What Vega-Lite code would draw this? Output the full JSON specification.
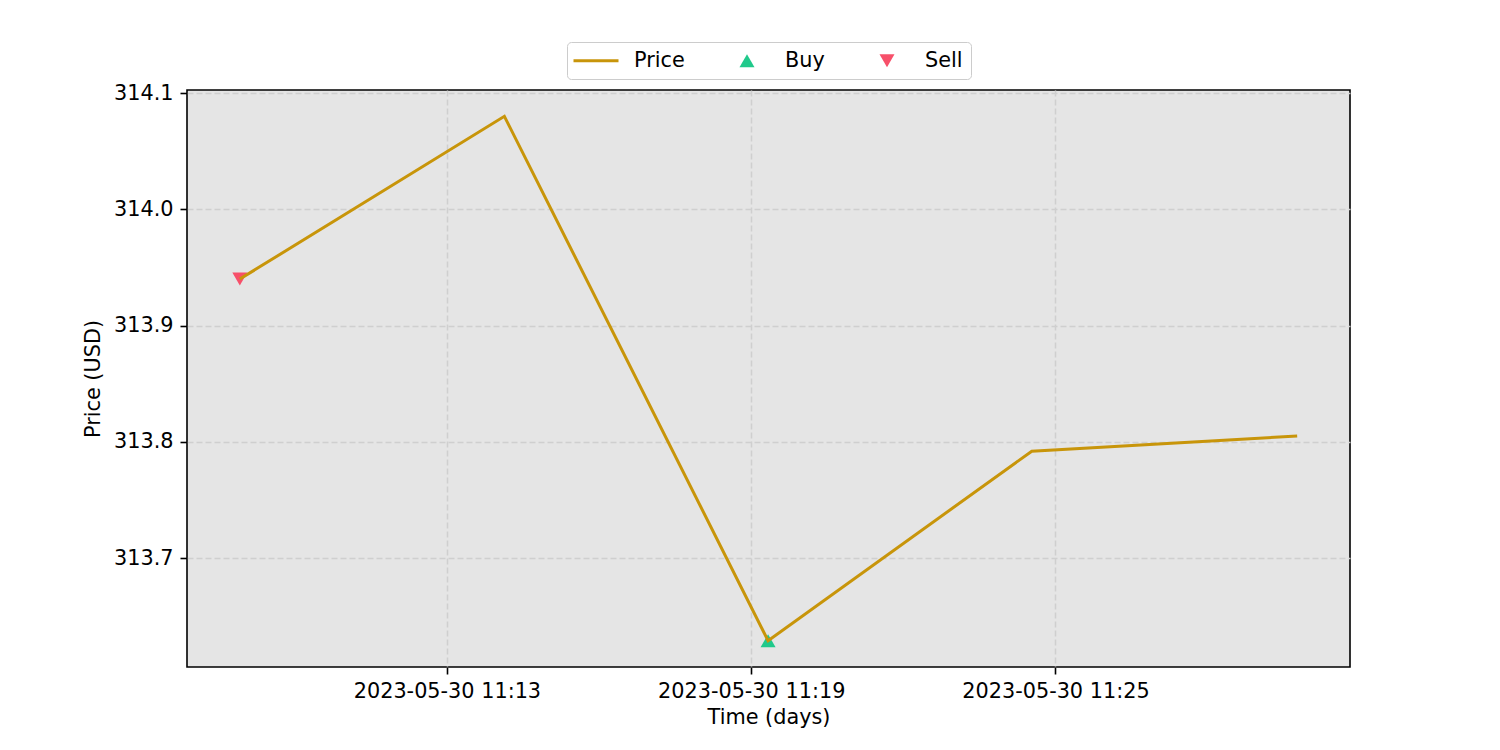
{
  "$schema": "https://vega.github.io/schema/vega-lite/v6.json",
  "width": 1163,
  "height": 577,
  "autosize": "none",
  "padding": {"left": 187, "top": 90, "right": 150, "bottom": 83},
  "background": "white",
  "data": {
    "values": [
      {"time": "2023-05-30T11:08:55Z", "price": 313.94, "signal": "Sell"},
      {"time": "2023-05-30T11:14:08Z", "price": 314.08, "signal": null},
      {"time": "2023-05-30T11:19:20Z", "price": 313.629, "signal": "Buy"},
      {"time": "2023-05-30T11:24:32Z", "price": 313.792, "signal": null},
      {"time": "2023-05-30T11:29:46Z", "price": 313.805, "signal": null}
    ]
  },
  "config": {
    "font": "DejaVu Sans",
    "view": {"stroke": "black", "strokeWidth": 1.6, "fill": "#e5e5e5"},
    "axis": {
      "domain": false,
      "tickColor": "black",
      "tickWidth": 1.6,
      "tickSize": 7,
      "labelFont": "DejaVu Sans",
      "labelFontSize": 20.8,
      "labelColor": "black",
      "labelPadding": 7,
      "labelLimit": 400,
      "titleFont": "DejaVu Sans",
      "titleFontSize": 20.8,
      "titleFontWeight": "normal",
      "titleColor": "black",
      "grid": true,
      "gridColor": "#cfcfcf",
      "gridWidth": 1.5,
      "gridDash": [6, 3]
    },
    "legend": {
      "orient": "none",
      "legendX": 380,
      "legendY": -48,
      "direction": "horizontal",
      "padding": 8,
      "fillColor": "white",
      "strokeColor": "#cccccc",
      "cornerRadius": 4,
      "labelFont": "DejaVu Sans",
      "labelFontSize": 20.8,
      "labelColor": "black",
      "labelOffset": 16,
      "labelLimit": 300,
      "columnPadding": 41,
      "symbolOpacity": 1
    }
  },
  "encoding": {
    "x": {
      "field": "time",
      "type": "temporal",
      "title": "Time (days)",
      "scale": {
        "type": "utc",
        "domain": ["2023-05-30T11:07:52.5Z", "2023-05-30T11:30:48.5Z"]
      },
      "axis": {
        "values": [
          {"year": 2023, "month": 5, "date": 30, "hours": 11, "minutes": 13, "utc": true},
          {"year": 2023, "month": 5, "date": 30, "hours": 11, "minutes": 19, "utc": true},
          {"year": 2023, "month": 5, "date": 30, "hours": 11, "minutes": 25, "utc": true}
        ],
        "labelExpr": "utcFormat(datum.value, '%Y-%m-%d %H:%M')",
        "labelFlush": false,
        "titlePadding": 7
      }
    },
    "y": {
      "field": "price",
      "type": "quantitative",
      "title": "Price (USD)",
      "scale": {"domain": [313.6064, 314.1026], "zero": false, "nice": false},
      "axis": {
        "values": [313.7, 313.8, 313.9, 314.0, 314.1],
        "format": ".1f",
        "titlePadding": 10
      }
    }
  },
  "layer": [
    {
      "transform": [{"filter": "datum.signal != null"}],
      "mark": {"type": "point", "filled": true, "opacity": 1, "size": 225},
      "encoding": {
        "color": {
          "field": "signal",
          "type": "nominal",
          "scale": {"domain": ["Price", "Buy", "Sell"], "range": ["#c8950a", "#20c98b", "#f7506a"]},
          "legend": {
            "title": null,
            "labelOffset": 16,
            "columnPadding": 41,
            "labelFontSize": 20.8,
            "encode": {
              "symbols": {
                "update": {
                  "x": {"value": 21},
                  "size": {"signal": "datum.value === 'Price' ? 2025 : 225"},
                  "stroke": {"signal": "scale('color', datum.value)"},
                  "strokeWidth": {"signal": "datum.value === 'Price' ? 3 : 0"}
                }
              },
              "labels": {
                "update": {
                  "x": {"value": 59}
                }
              }
            }
          }
        },
        "shape": {
          "field": "signal",
          "type": "nominal",
          "scale": {"domain": ["Price", "Buy", "Sell"], "range": ["stroke", "triangle-up", "triangle-down"]},
          "legend": {
            "title": null,
            "labelOffset": 16,
            "columnPadding": 41,
            "labelFontSize": 20.8
          }
        }
      }
    },
    {
      "mark": {"type": "line", "color": "#c8950a", "strokeWidth": 3}
    }
  ]
}
